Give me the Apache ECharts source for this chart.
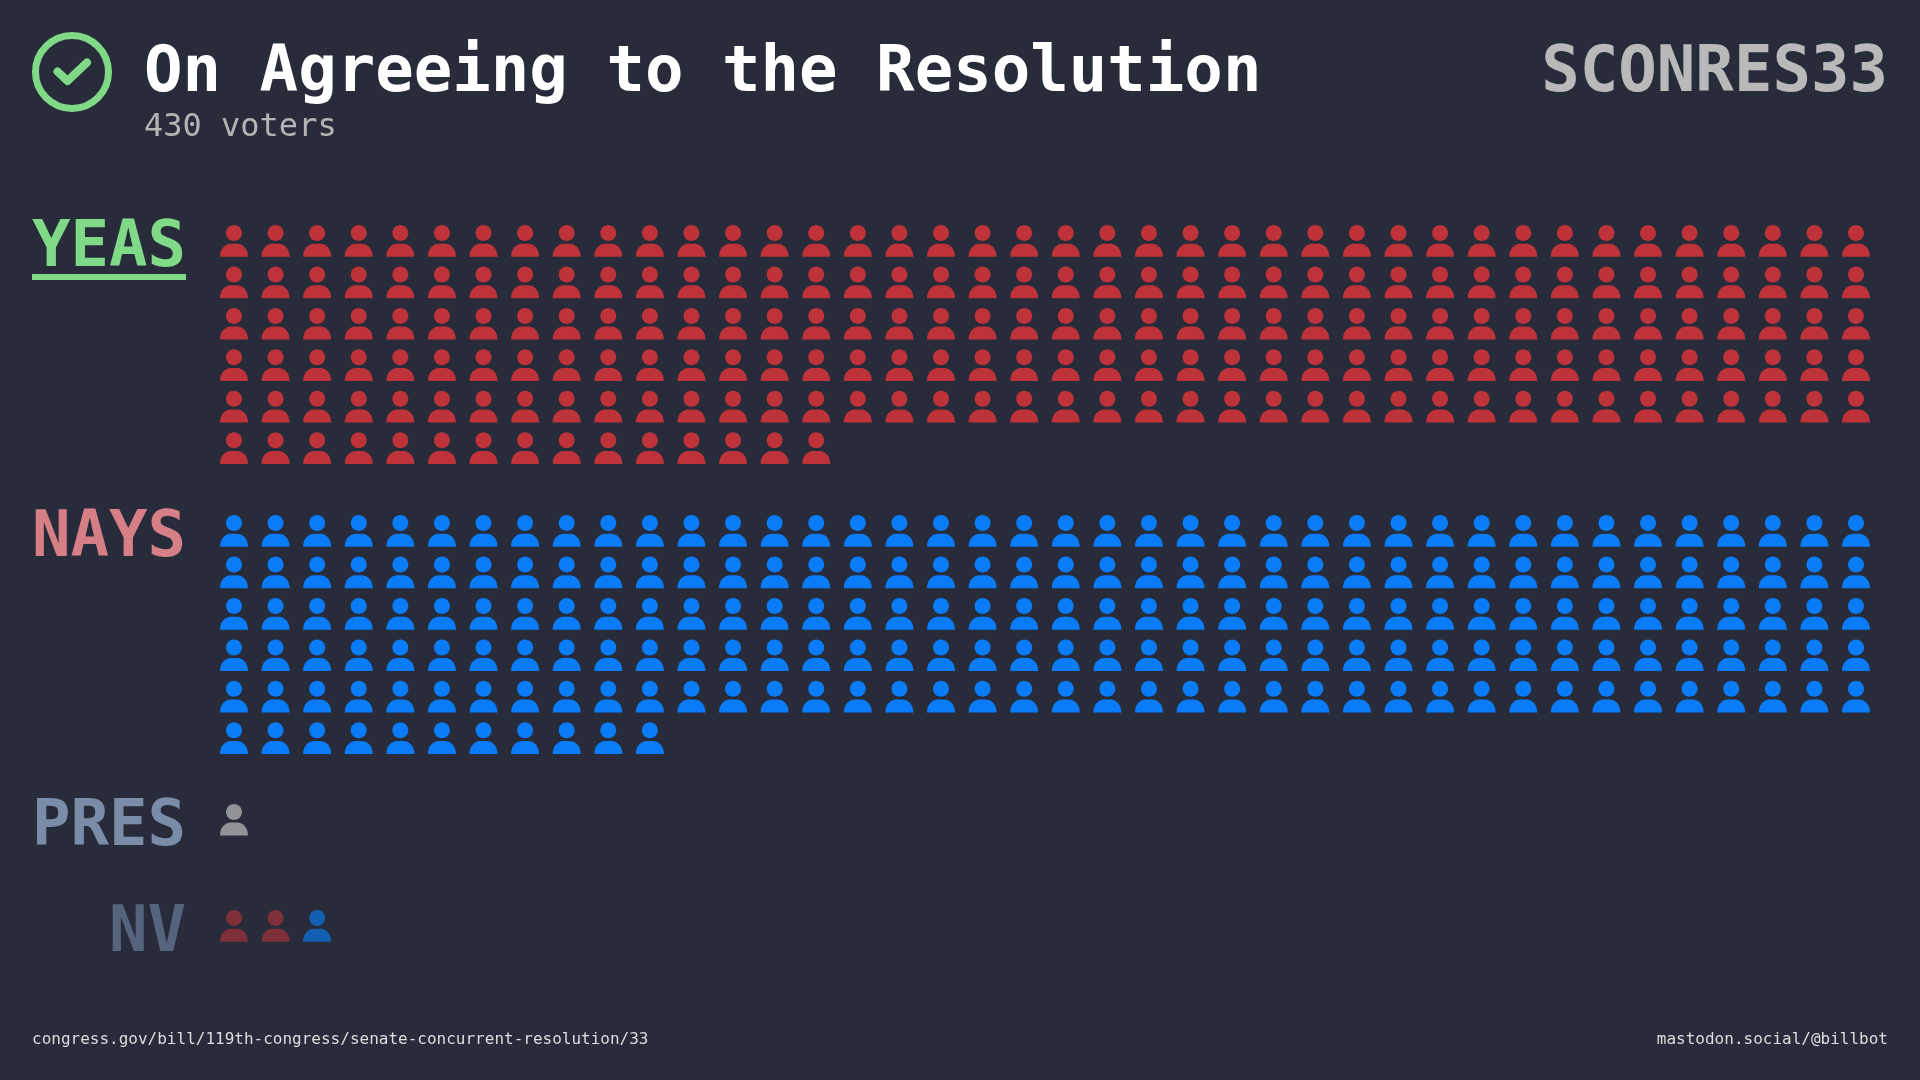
<!DOCTYPE html>
<html><head><meta charset="utf-8">
<style>html,body{margin:0;padding:0;background:#282b3a;overflow:hidden}#c{width:1920px;height:1080px}</style>
<script src="https://cdn.jsdelivr.net/npm/echarts@6/dist/echarts.min.js"></script>
</head><body><div id="c"></div>
<script>
const titleText = 'On Agreeing to the Resolution';
const subtitleText = '430 voters';
const billText = 'SCONRES33';
const sourceText = 'congress.gov/bill/119th-congress/senate-concurrent-resolution/33';
const creditText = 'mastodon.social/@billbot';
const groupLabels = ['YEAS', 'NAYS', 'PRES', 'NV'];
const yeasRed = 215;
const naysBlue = 211;
const presGray = 1;
const nvRed = 2;
const nvBlue = 1;
const perRow = 40;

const mono = '"DejaVu Sans Mono"';
const bg = '#282b3a';
const green = '#7fd986';
const person = 'path://M14 0C18.4 0 22 3.6 22 8C22 12.4 18.4 16 14 16C9.6 16 6 12.4 6 8C6 3.6 9.6 0 14 0Z' +
  'M11 18.7L17 18.7C23.5 18.7 28 24.2 28 31.7L0 31.7C0 24.2 4.5 18.7 11 18.7Z';

const rowStarts = [0, 7, 13.97, 16.53];
function cells(count, row0, col0) {
  const out = [];
  for (let i = 0; i < count; i++) {
    const k = i + (col0 || 0);
    out.push([k % perRow, row0 + Math.floor(k / perRow)]);
  }
  return out;
}
function people(name, data, color) {
  return { name, type: 'scatter', data, symbol: person, symbolSize: [28, 31.7],
    itemStyle: { color, opacity: 1 }, clip: false, silent: true };
}
function label(text, y, fill) {
  return { type: 'text', x: 186, y, style: { text, fill, align: 'right', verticalAlign: 'middle',
    font: 'bold 64px ' + mono } };
}
const chart = echarts.init(document.getElementById('c'), null, { renderer: 'canvas', width: 1920, height: 1080 });
chart.setOption({
  animation: false,
  backgroundColor: bg,
  grid: { left: 234, top: 240.85, width: 1622, height: 685, containLabel: false },
  xAxis: { type: 'value', min: 0, max: perRow - 1, show: false },
  yAxis: { type: 'value', min: 0, max: rowStarts[3], inverse: true, show: false },
  series: [
    people('Yeas', cells(yeasRed, rowStarts[0]), '#bd3339'),
    people('Nays', cells(naysBlue, rowStarts[1]), '#0a7cf7'),
    people('Present', cells(presGray, rowStarts[2]), '#929398'),
    people('Not voting R', cells(nvRed, rowStarts[3]), '#7f2f39'),
    people('Not voting D', cells(nvBlue, rowStarts[3], nvRed), '#1360b2')
  ],
  graphic: [
    { type: 'circle', shape: { cx: 72, cy: 72, r: 36.5 }, style: { fill: 'none', stroke: green, lineWidth: 7 } },
    { type: 'polyline', shape: { points: [[57.5, 71.5], [67.5, 81], [87, 62.5]] },
      style: { fill: 'none', stroke: green, lineWidth: 8, lineCap: 'round', lineJoin: 'round' } },
    { type: 'text', x: 144, y: 74, style: { text: titleText, fill: '#ffffff', verticalAlign: 'middle', font: 'bold 64px ' + mono } },
    { type: 'text', x: 144, y: 128, style: { text: subtitleText, fill: '#b4b4b4', verticalAlign: 'middle', font: '32px ' + mono } },
    { type: 'text', x: 1888, y: 74, style: { text: billText, fill: '#b9b9b9', align: 'right', verticalAlign: 'middle', font: 'bold 64px ' + mono } },
    label(groupLabels[0], 249, green),
    { type: 'rect', shape: { x: 32, y: 274, width: 154, height: 6 }, style: { fill: green } },
    label(groupLabels[1], 539, '#d67f86'),
    label(groupLabels[2], 828, '#7a8ca8'),
    label(groupLabels[3], 934, '#56637d'),
    { type: 'text', x: 32, y: 1040, style: { text: sourceText, fill: '#dddddd', verticalAlign: 'middle', font: '16px ' + mono } },
    { type: 'text', x: 1888, y: 1040, style: { text: creditText, fill: '#dddddd', align: 'right', verticalAlign: 'middle', font: '16px ' + mono } }
  ]
});
</script></body></html>
